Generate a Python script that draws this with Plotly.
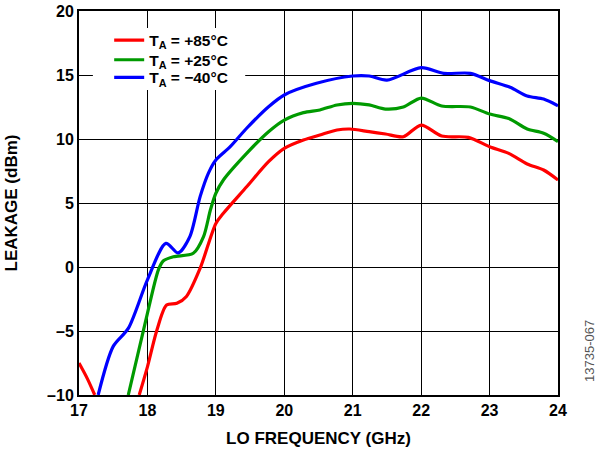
import plotly.graph_objects as go

# LO frequency (GHz) / leakage (dBm)
freq_85 = [17.0, 17.12, 17.23, None, 17.88, 18.0, 18.14, 18.28, 18.43, 18.57, 18.77, 19.0, 19.11,
           19.45, 19.77, 20.0, 20.28, 20.52, 20.77, 20.96, 21.24, 21.48, 21.74, 22.0, 22.3,
           22.69, 23.0, 23.28, 23.55, 23.79, 24.0]
leak_85 = [-7.5, -8.7, -10.0, None, -10.0, -7.8, -4.9, -2.97, -2.84, -2.3, -0.1, 3.4, 4.2,
           6.27, 8.23, 9.27, 9.92, 10.31, 10.7, 10.78, 10.57, 10.39, 10.18, 11.09, 10.23,
           10.13, 9.4, 8.88, 8.05, 7.58, 6.8]

freq_25 = [17.72, 18.0, 18.16, 18.23, 18.38, 18.67, 18.82, 18.92, 19.0, 19.11, 19.45, 19.77,
           20.0, 20.28, 20.52, 20.77, 21.0, 21.24, 21.48, 21.74, 22.0, 22.3, 22.72, 23.0,
           23.28, 23.55, 23.79, 24.0]
leak_25 = [-10.0, -3.62, -0.23, 0.47, 0.8, 1.07, 2.37, 4.45, 5.76, 6.8, 8.88, 10.57,
           11.48, 12.06, 12.27, 12.66, 12.79, 12.66, 12.34, 12.5, 13.2, 12.58, 12.5, 11.95,
           11.6, 10.78, 10.45, 9.8]

freq_m40 = [17.28, 17.5, 17.72, 18.0, 18.27, 18.45, 18.62, 18.77, 18.89, 19.0, 19.21, 19.45,
            19.77, 20.0, 20.47, 21.0, 21.24, 21.5, 22.0, 22.33, 22.72, 23.0, 23.3, 23.55,
            23.79, 24.0]
leak_m40 = [-10.0, -6.2, -4.8, -1.0, 1.85, 1.1, 2.37, 5.5, 7.32, 8.36, 9.4, 10.84,
            12.52, 13.44, 14.35, 14.92, 14.92, 14.6, 15.57, 15.13, 15.13, 14.56, 14.04, 13.36,
            13.12, 12.6]

y_ticks = [-10, -5, 0, 5, 10, 15, 20]
y_text = ["–10", "–5", "0", "5", "10", "15", "20"]
x_ticks = [17, 18, 19, 20, 21, 22, 23, 24]

FONT = "Liberation Sans, Arial, sans-serif"

fig = go.Figure()
# one legend per row so the rows can sit as tight as in the original
series = [
    (freq_85, leak_85, "#FF0000", "T<sub>A</sub> = +85°C", "legend", 0.923),
    (freq_25, leak_25, "#009A00", "T<sub>A</sub> = +25°C", "legend2", 0.872),
    (freq_m40, leak_m40, "#0000FF", "T<sub>A</sub> = −40°C", "legend3", 0.826),
]
legends = {}
for x, y, color, label, leg, ly in series:
    fig.add_trace(go.Scatter(
        x=x, y=y, name=label, mode="lines", legend=leg,
        line=dict(color=color, width=3.2, shape="spline", smoothing=0.8),
        connectgaps=False,
    ))
    legends[leg] = dict(
        x=0.063, y=ly, xanchor="left", yanchor="middle",
        bgcolor="rgba(0,0,0,0)", borderwidth=0,
        font=dict(family=FONT, size=15.5, color="black", weight="bold"),
    )

# white patch behind the legend rows, hiding the grid like the original
fig.add_shape(
    type="rect", xref="paper", yref="paper", x0=0.029, x1=0.347, y0=0.794, y1=0.956,
    fillcolor="white", line=dict(width=0), layer="above",
)

axis_common = dict(
    showgrid=True, gridcolor="black", gridwidth=1.2,
    showline=True, linecolor="black", linewidth=2, mirror=True,
    ticks="", zeroline=False, automargin=False,
    tickfont=dict(family=FONT, size=16, color="black", weight="bold"),
)

fig.update_xaxes(
    range=[17, 24], tickvals=x_ticks,
    title=dict(text="<b>LO FREQUENCY (GHz)</b>", font=dict(family=FONT, size=17, color="black"), standoff=14),
    **axis_common,
)
fig.update_yaxes(
    range=[-10, 20], tickvals=y_ticks, ticktext=y_text,
    title=dict(text="<b>LEAKAGE (dBm)</b>", font=dict(family=FONT, size=17, color="black"), standoff=25),
    **axis_common,
)

fig.add_annotation(
    text="13735-067", textangle=-90, showarrow=False,
    xref="paper", yref="paper", x=1.067, y=0.115, xanchor="center", yanchor="middle",
    font=dict(family=FONT, size=13, color="#555555"),
)

fig.update_layout(
    width=600, height=451,
    margin=dict(l=79, r=42, t=11, b=56),
    paper_bgcolor="white", plot_bgcolor="white",
    showlegend=True,
    **legends,
)

# drop the browser's default 8px body margin so the figure sits at the page corner
fig.write_html(
    "out.html",
    config={"displayModeBar": False},
    post_script="document.body.style.margin='0';",
)
